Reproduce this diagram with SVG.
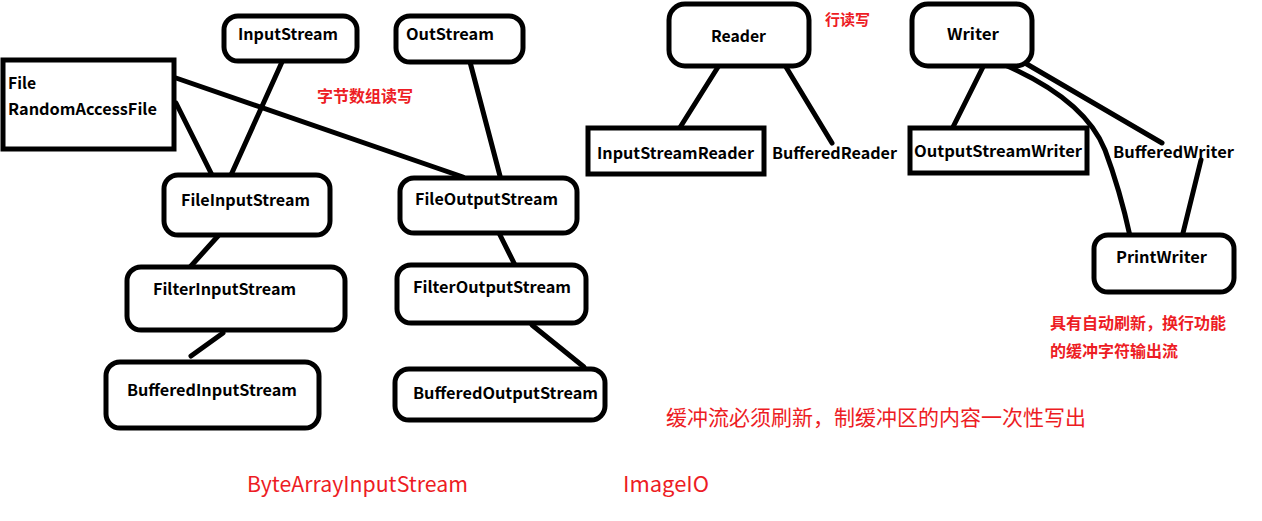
<svg xmlns="http://www.w3.org/2000/svg" width="1262" height="521" viewBox="0 0 1262 521">
<style>
.box{fill:#fff;stroke:#000;stroke-width:5}
.ln{fill:none;stroke:#000;stroke-width:5;stroke-linecap:round}
.t{font-family:"Noto Sans CJK SC","Liberation Sans",sans-serif;font-weight:bold;font-size:16px;fill:#000}
.r{font-family:"Noto Sans CJK SC","Liberation Sans",sans-serif;fill:#ed1c24}
</style>
<rect width="1262" height="521" fill="#fff"/>
<g id="connectors">
<line class="ln" x1="282" y1="62" x2="231" y2="175"/>
<line class="ln" x1="176" y1="103" x2="213" y2="177"/>
<line class="ln" x1="176" y1="78" x2="463" y2="177"/>
<line class="ln" x1="470" y1="62" x2="500" y2="176"/>
<line class="ln" x1="218" y1="236" x2="191" y2="266"/>
<line class="ln" x1="223" y1="333" x2="191" y2="356"/>
<line class="ln" x1="497" y1="229" x2="515" y2="265"/>
<line class="ln" x1="532" y1="325" x2="584" y2="367"/>
<line class="ln" x1="718" y1="67" x2="674" y2="137"/>
<line class="ln" x1="786" y1="67" x2="832" y2="143"/>
<line class="ln" x1="983" y1="67" x2="953" y2="127"/>
<line class="ln" x1="1025" y1="63" x2="1162" y2="143"/>
<path class="ln" d="M1005,65 Q1085,100 1105,150 Q1120,190 1130,236"/>
<line class="ln" x1="1201" y1="160" x2="1183" y2="233"/>
</g>
<g id="InputStream"><rect class="box" x="224" y="16" width="133" height="45" rx="14"/><text class="t" x="238" y="40" textLength="100" lengthAdjust="spacingAndGlyphs">InputStream</text></g>
<g id="OutStream"><rect class="box" x="396" y="16" width="127" height="46" rx="14"/><text class="t" x="406" y="40" textLength="88" lengthAdjust="spacingAndGlyphs">OutStream</text></g>
<g id="File"><rect class="box" x="3" y="60" width="171" height="89"/><text class="t" x="8" y="89" textLength="28" lengthAdjust="spacingAndGlyphs">File</text><text class="t" x="8" y="115" textLength="149" lengthAdjust="spacingAndGlyphs">RandomAccessFile</text></g>
<g id="FileInputStream"><rect class="box" x="164" y="175" width="166" height="60" rx="14"/><text class="t" x="181" y="206" textLength="129" lengthAdjust="spacingAndGlyphs">FileInputStream</text></g>
<g id="FileOutputStream"><rect class="box" x="400" y="178" width="177" height="55" rx="14"/><text class="t" x="415" y="205" textLength="143" lengthAdjust="spacingAndGlyphs">FileOutputStream</text></g>
<g id="FilterInputStream"><rect class="box" x="127" y="267" width="218" height="63" rx="14"/><text class="t" x="153" y="295" textLength="143" lengthAdjust="spacingAndGlyphs">FilterInputStream</text></g>
<g id="FilterOutputStream"><rect class="box" x="397" y="265" width="189" height="58" rx="14"/><text class="t" x="413" y="293" textLength="158" lengthAdjust="spacingAndGlyphs">FilterOutputStream</text></g>
<g id="BufferedInputStream"><rect class="box" x="106" y="362" width="213" height="66" rx="14"/><text class="t" x="127" y="396" textLength="170" lengthAdjust="spacingAndGlyphs">BufferedInputStream</text></g>
<g id="BufferedOutputStream"><rect class="box" x="395" y="369" width="210" height="51" rx="14"/><text class="t" x="413" y="399" textLength="185" lengthAdjust="spacingAndGlyphs">BufferedOutputStream</text></g>
<g id="Reader"><rect class="box" x="669" y="4" width="140" height="62" rx="16"/><text class="t" x="711" y="42" textLength="55" lengthAdjust="spacingAndGlyphs">Reader</text></g>
<g id="Writer"><rect class="box" x="912" y="4" width="120" height="62" rx="16"/><text class="t" x="947" y="40" textLength="52" lengthAdjust="spacingAndGlyphs">Writer</text></g>
<g id="InputStreamReader"><rect class="box" x="588" y="128" width="176" height="46"/><text class="t" x="597" y="159" textLength="157" lengthAdjust="spacingAndGlyphs">InputStreamReader</text></g>
<g id="BufferedReader"><text class="t" x="772" y="159" textLength="125" lengthAdjust="spacingAndGlyphs">BufferedReader</text></g>
<g id="OutputStreamWriter"><rect class="box" x="910" y="128" width="177" height="45"/><text class="t" x="914" y="157" textLength="168" lengthAdjust="spacingAndGlyphs">OutputStreamWriter</text></g>
<g id="BufferedWriter"><text class="t" x="1113" y="158" textLength="121" lengthAdjust="spacingAndGlyphs">BufferedWriter</text></g>
<g id="PrintWriter"><rect class="box" x="1094" y="235" width="140" height="57" rx="14"/><text class="t" x="1116" y="263" textLength="91" lengthAdjust="spacingAndGlyphs">PrintWriter</text></g>
<g id="notes">
<text class="r" x="317" y="102" font-size="16" font-weight="bold">字节数组读写</text>
<text class="r" x="825" y="25" font-size="15" font-weight="bold">行读写</text>
<text class="r" x="1050" y="329" font-size="16" font-weight="bold">具有自动刷新，换行功能</text>
<text class="r" x="1050" y="357" font-size="16" font-weight="bold">的缓冲字符输出流</text>
<text class="r" x="666" y="425" font-size="21">缓冲流必须刷新，制缓冲区的内容一次性写出</text>
<text class="r" x="247" y="492" font-size="21" textLength="221" lengthAdjust="spacingAndGlyphs">ByteArrayInputStream</text>
<text class="r" x="623" y="492" font-size="21" textLength="86" lengthAdjust="spacingAndGlyphs">ImageIO</text>
</g>
</svg>
